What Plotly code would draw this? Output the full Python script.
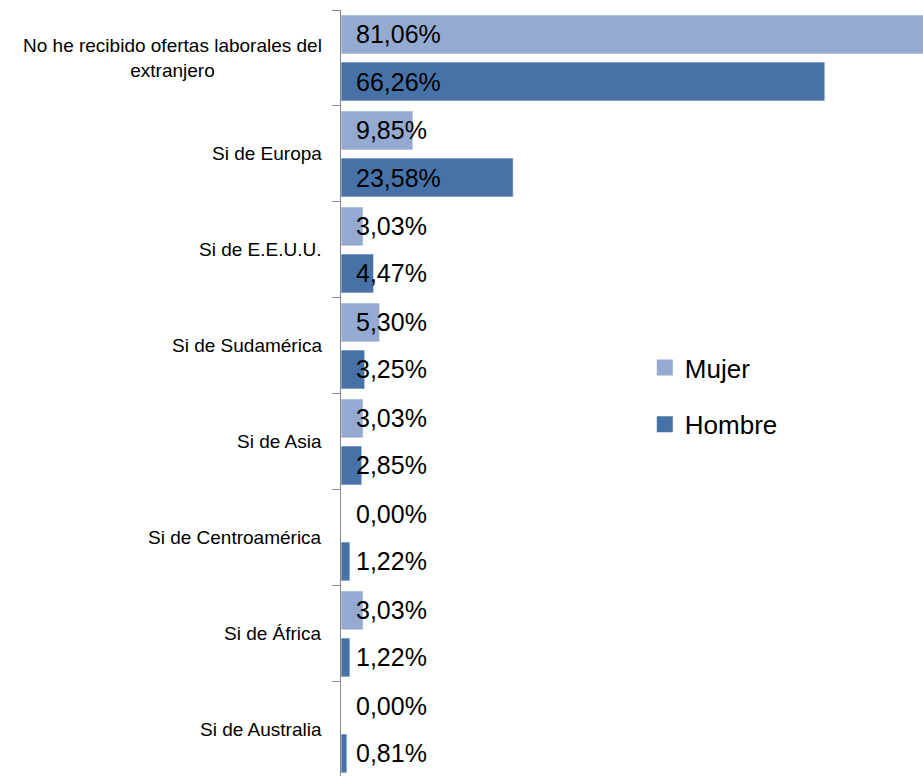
import plotly.graph_objects as go

# datos (porcentajes)
categorias = ["No he recibido ofertas laborales del<br>extranjero", "Si de Europa", "Si de E.E.U.U.",
              "Si de Sudamérica", "Si de Asia", "Si de Centroamérica", "Si de África", "Si de Australia"]
mujer = [81.06, 9.85, 3.03, 5.30, 3.03, 0.00, 3.03, 0.00]
hombre = [66.26, 23.58, 4.47, 3.25, 2.85, 1.22, 1.22, 0.81]

C_MUJER, C_HOMBRE = "#95AAD0", "#4672A8"
FONT = "Liberation Sans, Arial, sans-serif"
pos = list(range(len(categorias)))
OFF, W = 0.448, 0.406  # bar placement within each category slot

fig = go.Figure()
fig.add_trace(go.Bar(y=pos, x=mujer, orientation="h", offset=-OFF, width=W,
                     marker=dict(color=C_MUJER, line=dict(color="rgba(255,255,255,0.6)", width=1)),
                     showlegend=False, hoverinfo="x"))
fig.add_trace(go.Bar(y=pos, x=hombre, orientation="h", offset=OFF - W, width=W,
                     marker=dict(color=C_HOMBRE, line=dict(color="rgba(255,255,255,0.6)", width=1)),
                     showlegend=False, hoverinfo="x"))

# leyenda con marcadores cuadrados
for nombre, col, grp in [("Mujer", C_MUJER, "m"), ("Hombre", C_HOMBRE, "h")]:
    fig.add_trace(go.Scatter(x=[None], y=[None], mode="markers", name=nombre, legendgroup=grp,
                             marker=dict(symbol="square", size=16, color=col)))

# etiquetas de valores (coma decimal)
mid = (OFF + (OFF - W)) / 2
for i in pos:
    for val, dy in [(mujer[i], -mid), (hombre[i], mid)]:
        fig.add_annotation(x=0, y=i + dy, xref="x", yref="y", text=f"{val:.2f}%".replace(".", ","),
                           showarrow=False, xanchor="left", xshift=13,
                           font=dict(family=FONT, size=25, color="#000"))

# etiquetas de categorias centradas
for i, cat in enumerate(categorias):
    fig.add_annotation(x=0, y=i, xref="paper", yref="y", text=cat, showarrow=False,
                       xanchor="right", xshift=-17, align="center",
                       font=dict(family=FONT, size=19, color="#000"))

fig.update_layout(
    width=923, height=776,
    margin=dict(l=341, r=0, t=10, b=0),
    plot_bgcolor="white", paper_bgcolor="white",
    barmode="overlay",
    legend=dict(x=0.522, y=0.564, xanchor="left", yanchor="top", tracegroupgap=20,
                font=dict(family=FONT, size=26, color="#000"), bgcolor="rgba(0,0,0,0)"),
)
fig.update_xaxes(range=[0, 79.7], showgrid=False, zeroline=False, showticklabels=False, showline=False)
fig.update_yaxes(range=[len(categorias) - 0.52, -0.5], showgrid=False, zeroline=False,
                 showline=True, linecolor="#888888", linewidth=1,
                 tickmode="array", tickvals=[p - 0.5 for p in pos] + [len(pos) - 0.5],
                 ticks="outside", ticklen=8, tickcolor="#888888", showticklabels=False)

# sin margen en el body para que la figura ocupe toda la ventana
fig.write_html("out.html", config={"displayModeBar": False},
               post_script="document.body.style.margin='0';document.body.style.overflow='hidden';")
